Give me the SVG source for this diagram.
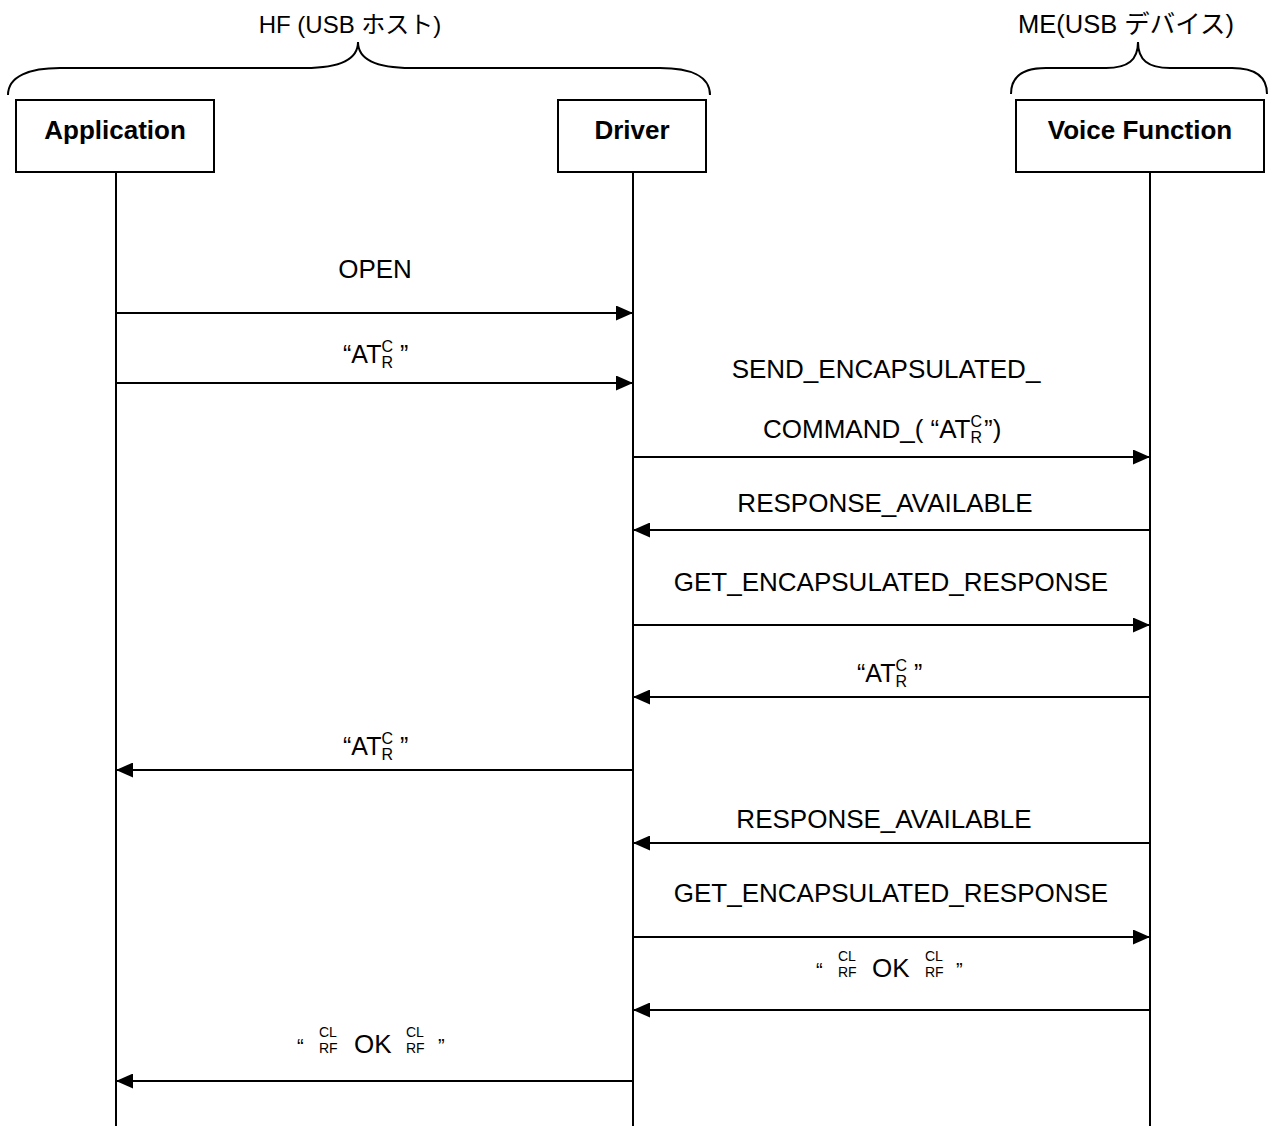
<svg xmlns="http://www.w3.org/2000/svg" width="1272" height="1126" viewBox="0 0 1272 1126">
  <style>
    text { font-family: "Liberation Sans", Arial, "Noto Sans CJK JP", sans-serif; fill: #000; }
    .title { font-size: 26px; font-weight: bold; text-anchor: middle; }
    .head { text-anchor: middle; }
    .lbl { font-size: 26px; }
    .mid { text-anchor: middle; }
    .q { font-size: 25px; }
    .sup { font-size: 16px; }
    .tiny { font-size: 14px; }
    .qm { font-size: 20px; }
    .box { fill: #fff; stroke: #000; stroke-width: 2; }
    .life { stroke: #000; stroke-width: 2; fill: none; }
    .brace { stroke: #000; stroke-width: 2; fill: none; }
    .msg { stroke: #000; stroke-width: 2; fill: none; marker-end: url(#ah); }
  </style>
  <defs>
    <marker id="ah" markerWidth="17" markerHeight="15" refX="17" refY="7.5" orient="auto" markerUnits="userSpaceOnUse">
      <path d="M0,0 L17,7.5 L0,15 z" fill="#000"/>
    </marker>
  </defs>
  <rect width="1272" height="1126" fill="#fff"/>

  <!-- grouping braces and their captions -->
  <g id="hf-group">
    <path class="brace" d="M8,95 C8,76 30,68 60,68 L305,68 C338,68 358,60 358,42 C358,60 378,68 411,68 L660,68 C690,68 710,76 710,95"/>
    <text class="head" x="350" y="33" font-size="24">HF (USB ホスト)</text>
  </g>
  <g id="me-group">
    <path class="brace" d="M1011,94 C1011,76 1024,68 1046,68 L1106,68 C1128,68 1138,60 1138,42 C1138,60 1148,68 1170,68 L1232,68 C1254,68 1267,76 1267,94"/>
    <text class="head" x="1126" y="33" font-size="25.5">ME(USB デバイス)</text>
  </g>

  <!-- participants with lifelines -->
  <g id="application">
    <line class="life" x1="116" y1="172" x2="116" y2="1126"/>
    <rect class="box" x="16" y="100" width="198" height="72"/>
    <text class="title" x="115" y="139">Application</text>
  </g>
  <g id="driver">
    <line class="life" x1="633" y1="172" x2="633" y2="1126"/>
    <rect class="box" x="558" y="100" width="148" height="72"/>
    <text class="title" x="632" y="139">Driver</text>
  </g>
  <g id="voice-function">
    <line class="life" x1="1150" y1="172" x2="1150" y2="1126"/>
    <rect class="box" x="1016" y="100" width="248" height="72"/>
    <text class="title" x="1140" y="139">Voice Function</text>
  </g>

  <!-- messages -->
  <g id="connectors">
    <line class="msg" x1="116" y1="313" x2="633" y2="313"/>
    <line class="msg" x1="116" y1="383" x2="633" y2="383"/>
    <line class="msg" x1="633" y1="457" x2="1150" y2="457"/>
    <line class="msg" x1="1150" y1="530" x2="633" y2="530"/>
    <line class="msg" x1="633" y1="625" x2="1150" y2="625"/>
    <line class="msg" x1="1150" y1="697" x2="633" y2="697"/>
    <line class="msg" x1="633" y1="770" x2="116" y2="770"/>
    <line class="msg" x1="1150" y1="843" x2="633" y2="843"/>
    <line class="msg" x1="633" y1="937" x2="1150" y2="937"/>
    <line class="msg" x1="1150" y1="1010" x2="633" y2="1010"/>
    <line class="msg" x1="633" y1="1081" x2="116" y2="1081"/>
  </g>

  <!-- message labels -->
  <g id="labels">
    <text class="lbl mid" x="375" y="278">OPEN</text>

    <text class="q" x="343" y="363">“AT<tspan class="sup" dy="-11">C</tspan><tspan class="sup" dx="-11.6" dy="16">R</tspan><tspan dx="7" dy="-5">”</tspan></text>

    <text class="lbl mid" x="886" y="378">SEND_ENCAPSULATED_</text>
    <text class="lbl" x="763" y="438">COMMAND_( “AT<tspan class="sup" dy="-11">C</tspan><tspan class="sup" dx="-11.6" dy="16">R</tspan><tspan dx="2" dy="-5">”)</tspan></text>

    <text class="lbl mid" x="885" y="512">RESPONSE_AVAILABLE</text>
    <text class="lbl mid" x="891" y="591">GET_ENCAPSULATED_RESPONSE</text>

    <text class="q" x="857" y="682">“AT<tspan class="sup" dy="-11">C</tspan><tspan class="sup" dx="-11.6" dy="16">R</tspan><tspan dx="7" dy="-5">”</tspan></text>

    <text class="q" x="343" y="755">“AT<tspan class="sup" dy="-11">C</tspan><tspan class="sup" dx="-11.6" dy="16">R</tspan><tspan dx="7" dy="-5">”</tspan></text>

    <text class="lbl mid" x="884" y="828">RESPONSE_AVAILABLE</text>
    <text class="lbl mid" x="891" y="902">GET_ENCAPSULATED_RESPONSE</text>

    <text class="qm" x="816" y="977">“</text>
    <text class="tiny" x="838" y="961">CL</text>
    <text class="tiny" x="838" y="977">RF</text>
    <text class="lbl" x="872" y="977">OK</text>
    <text class="tiny" x="925" y="961">CL</text>
    <text class="tiny" x="925" y="977">RF</text>
    <text class="qm" x="956" y="977">”</text>

    <text class="qm" x="297" y="1053">“</text>
    <text class="tiny" x="319" y="1037">CL</text>
    <text class="tiny" x="319" y="1053">RF</text>
    <text class="lbl" x="354" y="1053">OK</text>
    <text class="tiny" x="406" y="1037">CL</text>
    <text class="tiny" x="406" y="1053">RF</text>
    <text class="qm" x="438" y="1053">”</text>
  </g>
</svg>
